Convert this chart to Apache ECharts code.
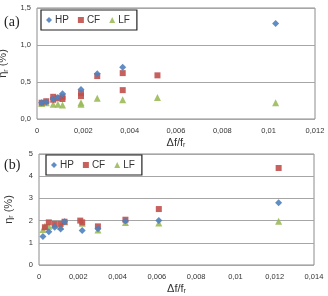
<!DOCTYPE html>
<html>
<head>
    <meta charset="utf-8">
    <title>eta r</title>
    <script src="https://cdn.jsdelivr.net/npm/echarts@6/dist/echarts.min.js"></script>
    <style>
        html, body { margin: 0; padding: 0; background: #fff; }
        #container { width: 328px; height: 296px; }
    </style>
</head>
<body>
<div id="container"></div>
<script>
    // (a) data: [df/fr, eta_r %]
    var hpA = [[0.0002, 0.22], [0.0004, 0.23], [0.0007, 0.27], [0.0009, 0.29], [0.0011, 0.34],
        [0.0019, 0.40], [0.0026, 0.61], [0.0037, 0.70], [0.0103, 1.29]];
    var cfA = [[0.0002, 0.22], [0.0004, 0.24], [0.0007, 0.30], [0.0007, 0.26], [0.0009, 0.28],
        [0.0011, 0.30], [0.0011, 0.27], [0.0019, 0.35], [0.0019, 0.31], [0.0026, 0.58],
        [0.0037, 0.62], [0.0037, 0.39], [0.0052, 0.59]];
    var lfA = [[0.0002, 0.21], [0.0004, 0.22], [0.0007, 0.20], [0.0009, 0.20], [0.0011, 0.19],
        [0.0019, 0.22], [0.0019, 0.20], [0.0026, 0.28], [0.0037, 0.26], [0.0052, 0.29], [0.0103, 0.22]];

    // (b) data
    var hpB = [[0.0002, 1.28], [0.0005, 1.50], [0.0008, 1.70], [0.0011, 1.62], [0.0013, 1.95],
        [0.0022, 1.55], [0.0030, 1.63], [0.0044, 1.98], [0.0061, 2.01], [0.0122, 2.80]];
    var cfB = [[0.0003, 1.70], [0.0005, 1.92], [0.0008, 1.85], [0.0011, 1.85], [0.0013, 1.95],
        [0.0021, 2.00], [0.0022, 1.92], [0.0030, 1.74], [0.0044, 2.04], [0.0061, 2.52], [0.0122, 4.37]];
    var lfB = [[0.0002, 1.60], [0.0003, 1.75], [0.0005, 1.75], [0.0008, 1.80], [0.0011, 1.75],
        [0.0013, 1.95], [0.0022, 1.88], [0.0030, 1.58], [0.0044, 1.92], [0.0061, 1.89], [0.0122, 1.97]];

    var xTicksA = ['0', '0,002', '0,004', '0,006', '0,008', '0,01', '0,012'];
    var yTicksA = ['0,0', '0,5', '1,0', '1,5'];
    var xTicksB = ['0', '0,002', '0,004', '0,006', '0,008', '0,01', '0,012', '0,014'];
    var yTicksB = ['0', '1', '2', '3', '4', '5'];

    var colors = ['#4f81bd', '#c0504d', '#9bbb59'];
    var labelFont = 'Liberation Sans';

    function tickFmt(labels, step) {
        return function (v) {
            var i = Math.round(v / step);
            return labels[i] !== undefined ? labels[i] : '';
        };
    }

    function xAxisOf(idx, max, labels) {
        return {
            gridIndex: idx, type: 'value', min: 0, max: max, interval: 0.002,
            name: '{a|Δf/f}{s|r}', nameLocation: 'middle', nameGap: 17,
            nameTextStyle: {
                rich: {
                    a: {fontSize: 11, color: '#333', fontFamily: labelFont},
                    s: {fontSize: 7, color: '#333', fontFamily: labelFont, padding: [6, 0, 0, 0]}
                }
            },
            axisLine: {show: false}, axisTick: {show: false}, splitLine: {show: false},
            axisLabel: {fontSize: 7.5, color: '#333', fontFamily: labelFont, margin: 8, formatter: tickFmt(labels, 0.002)}
        };
    }

    function yAxisOf(idx, max, interval, labels) {
        return {
            gridIndex: idx, type: 'value', min: 0, max: max, interval: interval,
            name: '{a|η}{s|r}{a| (%)}', nameLocation: 'middle', nameGap: 24,
            nameTextStyle: {
                rich: {
                    a: {fontSize: 11, color: '#333', fontFamily: labelFont},
                    s: {fontSize: 7, color: '#333', fontFamily: labelFont, padding: [6, 0, 0, 0]}
                }
            },
            axisLine: {show: false}, axisTick: {show: false},
            splitLine: {show: true, lineStyle: {color: '#a6a6a6', width: 1}},
            axisLabel: {fontSize: 7.5, color: '#333', fontFamily: labelFont, margin: 6, formatter: tickFmt(labels, interval)}
        };
    }

    function scatter(name, data, idx, symbol, color, size) {
        return {
            name: name, type: 'scatter', xAxisIndex: idx, yAxisIndex: idx,
            data: data, symbol: symbol, symbolSize: size,
            itemStyle: {color: color, opacity: 0.9}
        };
    }

    function legendOf(left, top) {
        return {
            left: left, top: top, orient: 'horizontal',
            data: [{name: 'HP', icon: 'diamond'}, {name: 'CF', icon: 'rect'}, {name: 'LF', icon: 'triangle'}],
            itemWidth: 6, itemHeight: 6, itemGap: 9,
            padding: [5, 7, 5, 5],
            borderColor: '#222', borderWidth: 1.2, backgroundColor: '#fff',
            textStyle: {fontSize: 10, color: '#333', fontFamily: labelFont, padding: [0, 0, 0, -2]},
            selectedMode: false
        };
    }

    var myChart = echarts.init(document.getElementById('container'));

    var option = {
        animation: false,
        grid: [
            {left: 37, top: 8, width: 278, height: 111, outerBoundsMode: 'none', containLabel: false,
                show: true, borderColor: '#8c8c8c', borderWidth: 1, backgroundColor: 'transparent'},
            {left: 39, top: 154, width: 275, height: 111, outerBoundsMode: 'none', containLabel: false,
                show: true, borderColor: '#8c8c8c', borderWidth: 1, backgroundColor: 'transparent'}
        ],
        xAxis: [xAxisOf(0, 0.012, xTicksA), xAxisOf(1, 0.014, xTicksB)],
        yAxis: [yAxisOf(0, 1.5, 0.5, yTicksA), yAxisOf(1, 5, 1, yTicksB)],
        legend: [legendOf(41, 10), legendOf(46, 155)],
        graphic: [
            {type: 'text', left: 4, top: 15, style: {text: '(a)', font: '14px "Liberation Serif"', fill: '#222'}},
            {type: 'text', left: 4, top: 158, style: {text: '(b)', font: '14px "Liberation Serif"', fill: '#222'}}
        ],
        series: [
            scatter('LF', lfA, 0, 'triangle', colors[2], 7),
            scatter('CF', cfA, 0, 'rect', colors[1], 6),
            scatter('HP', hpA, 0, 'diamond', colors[0], 7),
            scatter('LF', lfB, 1, 'triangle', colors[2], 7),
            scatter('CF', cfB, 1, 'rect', colors[1], 6),
            scatter('HP', hpB, 1, 'diamond', colors[0], 7)
        ]
    };

    myChart.setOption(option);
</script>
</body>
</html>
